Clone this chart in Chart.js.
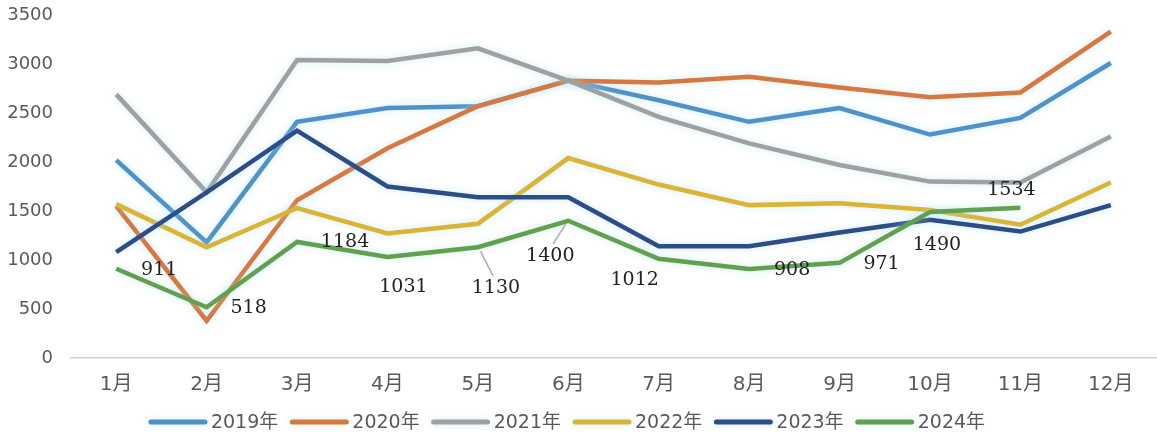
<!DOCTYPE html>
<html>
<head>
<meta charset="utf-8">
<script src="https://cdn.jsdelivr.net/npm/chart.js@4.4.1/dist/chart.umd.min.js"></script>
<style>
  html, body { margin: 0; padding: 0; background: #ffffff; }
  #wrap { width: 1157px; height: 438px; position: relative; }
</style>
</head>
<body>
<div id="wrap"><canvas id="c"></canvas></div>
<script>
// Monthly figures, one array per year
const months = ['1月', '2月', '3月', '4月', '5月', '6月', '7月', '8月', '9月', '10月', '11月', '12月'];
const y2019 = [2020, 1180, 2410, 2550, 2570, 2830, 2630, 2410, 2550, 2280, 2450, 3010];
const y2020 = [1550, 380, 1610, 2140, 2570, 2830, 2810, 2870, 2760, 2660, 2710, 3330];
const y2021 = [2690, 1690, 3040, 3030, 3160, 2830, 2460, 2190, 1970, 1800, 1790, 2260];
const y2022 = [1570, 1130, 1530, 1270, 1370, 2040, 1770, 1560, 1580, 1510, 1360, 1790];
const y2023 = [1080, 1690, 2320, 1750, 1640, 1640, 1140, 1140, 1280, 1410, 1290, 1560];
const y2024 = [911, 518, 1184, 1031, 1130, 1400, 1012, 908, 971, 1490, 1534, null];
const yearNames = ['2019年', '2020年', '2021年', '2022年', '2023年', '2024年'];
const yTicks = [0, 500, 1000, 1500, 2000, 2500, 3000, 3500];

const palette = ['#4f91c9', '#d8783f', '#a0a0a2', '#dbb434', '#2d4c89', '#62a04e'];
const series = [y2019, y2020, y2021, y2022, y2023, y2024];

// Where each 2024 value label sits relative to its point (dx, dy), and which get a leader line
const labelOffsets = [[43, 1], [42, 1], [48, 0], [16, 30], [18, 41], [-18, 35], [-24, 21], [43, 1], [42, 1], [7, 33], [-9, -18]];
const leaderIdx = [4, 5];

const valueLabels = {
  id: 'valueLabels',
  afterDatasetsDraw(chart) {
    const meta = chart.getDatasetMeta(5);
    const data = chart.data.datasets[5].data;
    const ctx = chart.ctx;
    ctx.save();
    ctx.font = '19px "DejaVu Serif"';
    ctx.fillStyle = '#222222';
    ctx.textAlign = 'center';
    ctx.textBaseline = 'middle';
    meta.data.forEach((pt, i) => {
      if (data[i] == null) return;
      const off = labelOffsets[i];
      const lx = pt.x + off[0], ly = pt.y + off[1];
      if (leaderIdx.includes(i)) {
        ctx.strokeStyle = '#a8aca8';
        ctx.lineWidth = 1.5;
        ctx.beginPath();
        const sx = pt.x + (lx - pt.x) * 0.15, sy = pt.y + (ly - pt.y) * 0.1;
        ctx.moveTo(sx, sy);
        ctx.lineTo(lx - (lx - pt.x) * 0.15, ly - 12);
        ctx.stroke();
      }
      ctx.fillText(String(data[i]), lx, ly);
    });
    ctx.restore();
  }
};

// Soft halo around each line
const lineGlow = {
  id: 'lineGlow',
  beforeDatasetDraw(chart) {
    const ctx = chart.ctx;
    ctx.save();
    ctx.shadowColor = 'rgba(170, 225, 235, 0.6)';
    ctx.shadowBlur = 7;
  },
  afterDatasetDraw(chart) {
    chart.ctx.restore();
  }
};

// Legend row under the month labels: line swatch followed by the year
const legendRow = {
  id: 'legendRow',
  afterDraw(chart) {
    const ctx = chart.ctx;
    const swatch = 58, gapIn = 4, gapOut = 12, y = 422, centerX = 567;
    ctx.save();
    ctx.font = '19px "DejaVu Sans", "Noto Sans CJK SC"';
    ctx.textBaseline = 'middle';
    const items = chart.data.datasets.map(ds => ({ text: ds.label, color: ds.borderColor, w: ctx.measureText(ds.label).width }));
    const total = items.reduce((s, it) => s + swatch + gapIn + it.w, 0) + gapOut * (items.length - 1);
    let x = centerX - total / 2;
    items.forEach(it => {
      ctx.strokeStyle = it.color;
      ctx.lineWidth = 5;
      ctx.lineCap = 'round';
      ctx.shadowColor = 'rgba(170, 225, 235, 0.6)';
      ctx.shadowBlur = 6;
      ctx.beginPath();
      ctx.moveTo(x + 2, y);
      ctx.lineTo(x + swatch - 2, y);
      ctx.stroke();
      ctx.shadowBlur = 0;
      ctx.fillStyle = '#595959';
      ctx.fillText(it.text, x + swatch + gapIn, y + 1);
      x += swatch + gapIn + it.w + gapOut;
    });
    ctx.restore();
  }
};

const datasets = series.map((vals, i) => ({
  label: yearNames[i],
  data: vals,
  borderColor: palette[i],
  backgroundColor: palette[i],
  borderWidth: 4.5,
  pointRadius: 0,
  tension: 0,
  fill: false,
  spanGaps: false,
  order: 6 - i
}));

new Chart(document.getElementById('c'), {
  type: 'line',
  data: { labels: months, datasets },
  options: {
    responsive: true,
    maintainAspectRatio: false,
    animation: false,
    layout: { autoPadding: false, padding: { top: 15, left: 0, right: 1, bottom: 40 } },
    plugins: {
      tooltip: { enabled: false },
      legend: { display: false }
    },
    scales: {
      x: {
        offset: true,
        afterFit(scale) { scale.height = 40; },
        grid: { display: false, drawTicks: false },
        border: { display: true, color: '#d4d4d4', width: 1.5 },
        ticks: {
          color: '#595959',
          padding: 15,
          font: { family: '"DejaVu Sans", "Noto Sans CJK SC"', size: 20 },
          maxRotation: 0
        }
      },
      y: {
        min: 0,
        max: 3500,
        afterBuildTicks(scale) { scale.ticks = yTicks.map(v => ({ value: v })); },
        afterFit(scale) {
          scale.width = 71;
          scale.paddingTop = 0;
          scale.paddingBottom = 0;
        },
        grid: { display: false, drawTicks: false },
        border: { display: false },
        ticks: {
          color: '#595959',
          padding: 18,
          font: { family: '"DejaVu Sans"', size: 18, lineHeight: 1.2 },
          callback: (v) => String(v)
        }
      }
    }
  },
  plugins: [lineGlow, valueLabels, legendRow]
});
</script>
</body>
</html>
